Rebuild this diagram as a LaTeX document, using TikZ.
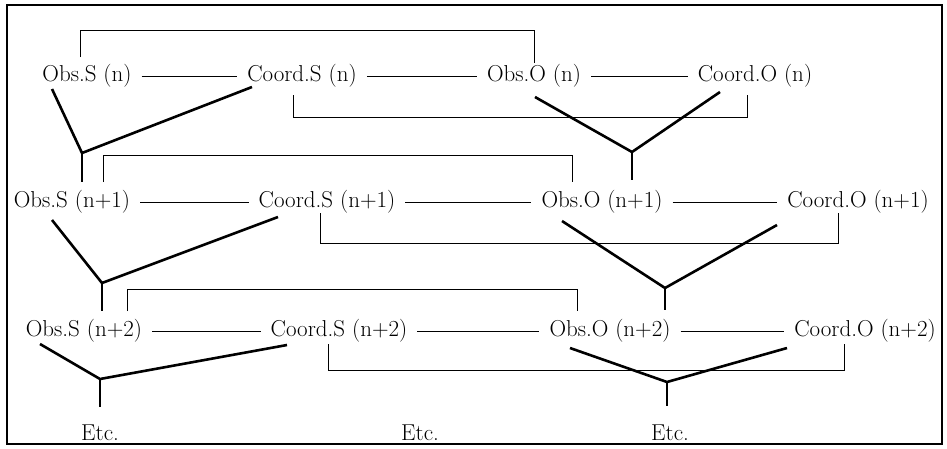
\documentclass[tikz,border=0pt]{standalone}
\usepackage{fontspec}
\begin{document}
\tikzset{
  lab/.style={inner sep=0pt, font=\fontsize{23}{27}\selectfont},
  thinln/.style={line width=1pt},
  thickln/.style={line width=2.6pt, line join=miter},
  dashln/.style={line width=1pt, shorten <=10pt, shorten >=10pt},
  frameln/.style={line width=2pt}
}
\begin{tikzpicture}[x=1pt,y=-1pt]
\useasboundingbox (0,0) rectangle (947,448);
\draw[frameln] (7,5) rectangle (942,444);

% row 1
\node[lab] (s1)  at (87,76)  {Obs.S (n)};
\node[lab] (cs1) at (302,76) {Coord.S (n)};
\node[lab] (o1)  at (534,76) {Obs.O (n)};
\node[lab] (co1) at (755,76) {Coord.O (n)};
% row 2
\node[lab] (s2)  at (72,202)  {Obs.S (n+1)};
\node[lab] (cs2) at (327,202) {Coord.S (n+1)};
\node[lab] (o2)  at (602,202) {Obs.O (n+1)};
\node[lab] (co2) at (858,202) {Coord.O (n+1)};
% row 3
\node[lab] (s3)  at (84,331)  {Obs.S (n+2)};
\node[lab] (cs3) at (339,331) {Coord.S (n+2)};
\node[lab] (o3)  at (610,331) {Obs.O (n+2)};
\node[lab] (co3) at (865,331) {Coord.O (n+2)};
% etc
\node[lab] (e1) at (100,433) {Etc.};
\node[lab] (e2) at (420,433) {Etc.};
\node[lab] (e3) at (670,433) {Etc.};

% horizontal dashes
\foreach \r in {1,2,3}{
  \draw[dashln] (s\r.east) -- (cs\r.west);
  \draw[dashln] (cs\r.east) -- (o\r.west);
  \draw[dashln] (o\r.east) -- (co\r.west);
}

% brackets row 1
\coordinate (t1a) at (80,57);  \coordinate (t1b) at (534,63);
\draw[thinln] (t1a) -- ++(0,-27) -| (t1b);
\coordinate (u1a) at (293,95); \coordinate (u1b) at (747,95);
\draw[thinln] (u1a) -- ++(0,22) -| (u1b);
% brackets row 2
\coordinate (t2a) at (103,182); \coordinate (t2b) at (572,182);
\draw[thinln] (t2a) -- ++(0,-27) -| (t2b);
\coordinate (u2a) at (320,213); \coordinate (u2b) at (838,213);
\draw[thinln] (u2a) -- ++(0,30) -| (u2b);
% brackets row 3
\coordinate (t3a) at (127,311); \coordinate (t3b) at (577,311);
\draw[thinln] (t3a) -- ++(0,-22) -| (t3b);
\coordinate (u3a) at (328,344); \coordinate (u3b) at (844,344);
\draw[thinln] (u3a) -- ++(0,26) -| (u3b);

% Y connectors row 1
\coordinate (a1l) at (52,89);   \coordinate (a1r) at (252,87);
\coordinate (j1)  at (82,153);  \coordinate (v1)  at (82,182);
\draw[thickln] (a1l) -- (j1) -- (a1r);
\draw[thickln] (j1) -- (v1);
\coordinate (b1l) at (535,97);  \coordinate (b1r) at (720,92);
\coordinate (k1)  at (632,152); \coordinate (w1)  at (632,180);
\draw[thickln] (b1l) -- (k1) -- (b1r);
\draw[thickln] (k1) -- (w1);
% Y connectors row 2
\coordinate (a2l) at (52,220);  \coordinate (a2r) at (278,217);
\coordinate (j2)  at (102,283); \coordinate (v2)  at (102,311);
\draw[thickln] (a2l) -- (j2) -- (a2r);
\draw[thickln] (j2) -- (v2);
\coordinate (b2l) at (562,221); \coordinate (b2r) at (777,225);
\coordinate (k2)  at (665,288); \coordinate (w2)  at (665,310);
\draw[thickln] (b2l) -- (k2) -- (b2r);
\draw[thickln] (k2) -- (w2);
% Y connectors row 3
\coordinate (a3l) at (40,344);  \coordinate (a3r) at (287,345);
\coordinate (j3)  at (100,379); \coordinate (v3)  at (100,407);
\draw[thickln] (a3l) -- (j3) -- (a3r);
\draw[thickln] (j3) -- (v3);
\coordinate (b3l) at (570,348); \coordinate (b3r) at (787,348);
\coordinate (k3)  at (667,382); \coordinate (w3)  at (667,406);
\draw[thickln] (b3l) -- (k3) -- (b3r);
\draw[thickln] (k3) -- (w3);
\end{tikzpicture}
\end{document}
